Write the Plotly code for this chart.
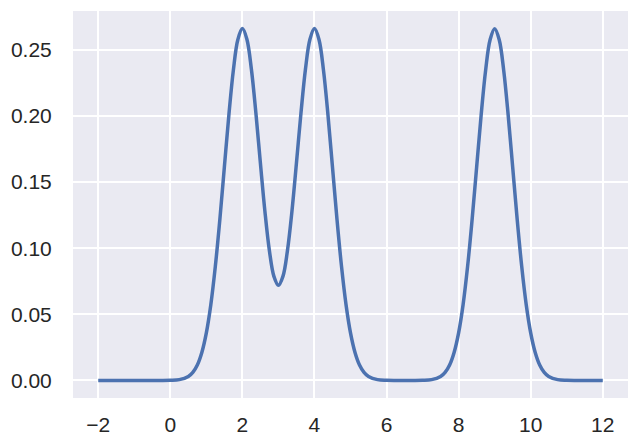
import plotly.graph_objects as go

# density curve
x_vals = [
    -2.0, -1.75, -1.5, -1.25, -1.0, -0.75, -0.5, -0.25,
    0.0, 0.25, 0.5, 0.625, 0.75, 0.875, 1.0, 1.125, 1.25, 1.375, 1.5, 1.625, 1.75, 1.875,
    2.0, 2.125, 2.25, 2.375, 2.5, 2.625, 2.75, 2.875, 3.0, 3.125, 3.25, 3.375, 3.5, 3.625, 3.75, 3.875,
    4.0, 4.125, 4.25, 4.375, 4.5, 4.625, 4.75, 4.875, 5.0, 5.125, 5.25, 5.375, 5.5, 5.75,
    6.0, 6.25, 6.5, 6.75, 7.0, 7.25, 7.5, 7.625, 7.75, 7.875,
    8.0, 8.125, 8.25, 8.375, 8.5, 8.625, 8.75, 8.875, 9.0, 9.125, 9.25, 9.375, 9.5, 9.625, 9.75, 9.875,
    10.0, 10.125, 10.25, 10.375, 10.5, 10.75, 11.0, 11.25, 11.5, 11.75, 12.0,
]
density = [
    0.0, 0.0, 0.0, 0.0, 0.0, 0.0, 0.0, 0.0,
    0.0001, 0.0006, 0.0030, 0.0061, 0.0117, 0.0212, 0.0360, 0.0575, 0.0864, 0.1218, 0.1613, 0.2007, 0.2347, 0.2578,
    0.2661, 0.2580, 0.2353, 0.2021, 0.1643, 0.1279, 0.0981, 0.0787, 0.0720, 0.0787, 0.0981, 0.1279, 0.1643, 0.2021, 0.2353, 0.2580,
    0.2661, 0.2578, 0.2347, 0.2007, 0.1613, 0.1218, 0.0864, 0.0575, 0.0360, 0.0212, 0.0117, 0.0061, 0.0030, 0.0006,
    0.0001, 0.0, 0.0, 0.0, 0.0001, 0.0006, 0.0030, 0.0061, 0.0117, 0.0212,
    0.0360, 0.0575, 0.0864, 0.1218, 0.1613, 0.2007, 0.2347, 0.2578, 0.2660, 0.2578, 0.2347, 0.2007, 0.1613, 0.1218, 0.0864, 0.0575,
    0.0360, 0.0212, 0.0117, 0.0061, 0.0030, 0.0006, 0.0001, 0.0, 0.0, 0.0, 0.0,
]
x_ticks = [-2, 0, 2, 4, 6, 8, 10, 12]
y_ticks = [0.00, 0.05, 0.10, 0.15, 0.20, 0.25]

fig = go.Figure(go.Scatter(
    x=x_vals, y=density, mode="lines",
    line=dict(color="#4C72B0", width=3.5, shape="spline", smoothing=1.0),
))

fig.update_layout(
    width=638, height=446,
    margin=dict(l=73, r=10, t=11, b=48, autoexpand=False),
    paper_bgcolor="white",
    plot_bgcolor="#EAEAF2",
    showlegend=False,
    font=dict(family="Liberation Sans, Arial, sans-serif", size=21, color="#262626"),
    xaxis=dict(
        range=[-2.7, 12.7], tickvals=x_ticks,
        ticktext=[str(t).replace("-", "\u2212") for t in x_ticks],
        showgrid=True, gridcolor="white", gridwidth=2, zeroline=False,
        ticks="outside", ticklen=8, tickcolor="rgba(0,0,0,0)", showline=False,
    ),
    yaxis=dict(
        range=[-0.0133, 0.2794], tickvals=y_ticks,
        ticktext=[f"{t:.2f}" for t in y_ticks],
        showgrid=True, gridcolor="white", gridwidth=2, zeroline=False,
        ticks="outside", ticklen=16, tickcolor="rgba(0,0,0,0)", showline=False,
    ),
)

# drop the browser's default body margin so the figure sits at the page corner
fig.write_html("out.html", config={"displayModeBar": False},
               post_script="document.body.style.margin='0';")
